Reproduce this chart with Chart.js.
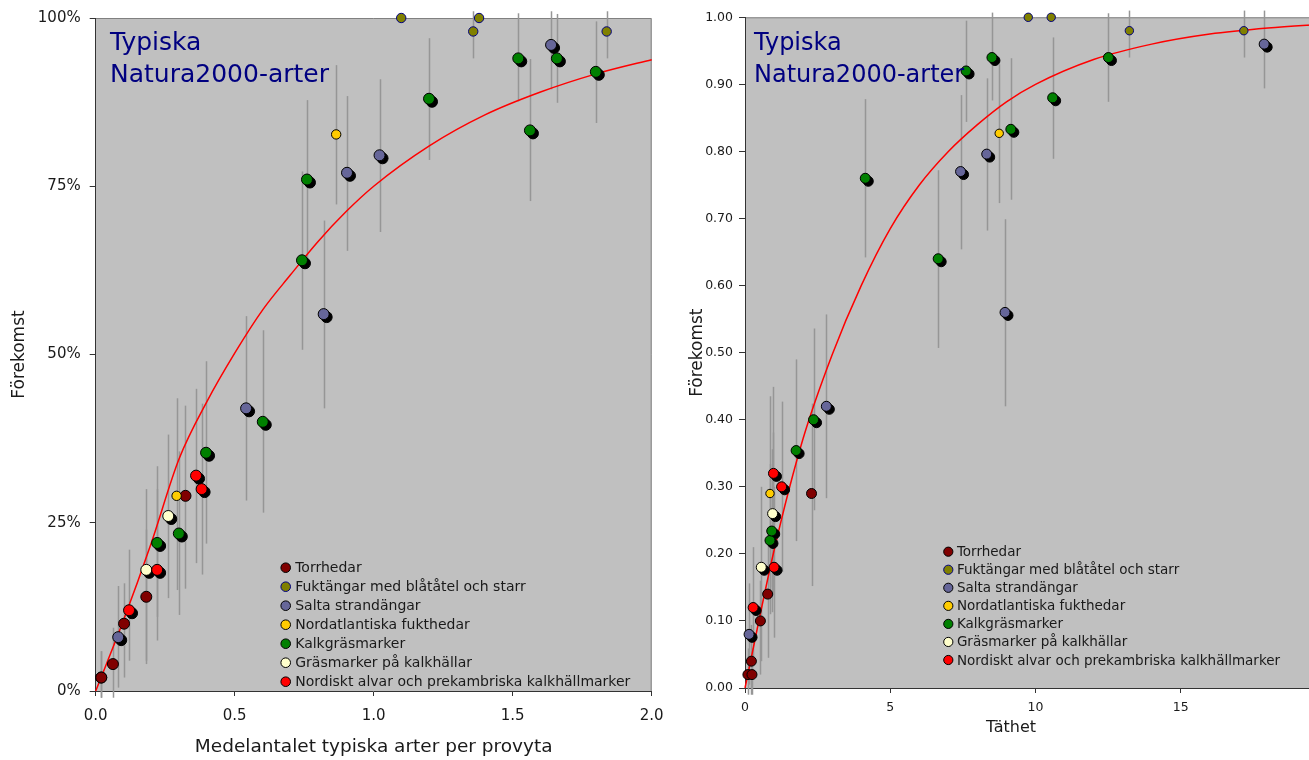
<!DOCTYPE html>
<html lang="sv">
<head>
<meta charset="utf-8">
<title>Typiska Natura2000-arter</title>
<script src="https://cdn.jsdelivr.net/npm/chart.js@4.4.1/dist/chart.umd.min.js"></script>
<style>
  html, body { margin: 0; padding: 0; background: #fff; overflow: hidden; }
  #wrap { position: relative; width: 1309px; height: 760px; overflow: hidden; }
  canvas { position: absolute; top: 0; }
  #chart-mean { left: 0; }
  #chart-density { left: 660px; }
</style>
</head>
<body>
<div id="wrap">
  <canvas id="chart-mean" width="680" height="760"></canvas>
  <canvas id="chart-density" width="681" height="760"></canvas>
</div>
<script>
'use strict';

// Habitat types, legend order
const HABITATS = [
  'Torrhedar',
  'Fuktängar med blåtåtel och starr',
  'Salta strandängar',
  'Nordatlantiska fukthedar',
  'Kalkgräsmarker',
  'Gräsmarker på kalkhällar',
  'Nordiskt alvar och prekambriska kalkhällmarker',
];
const FILL = ['#800000', '#808000', '#666699', '#FFCC00', '#008000', '#FFFFCC', '#FF0000'];
const EDGE = ['#000000', '#000080', '#000000', '#000000', '#000000', '#000000', '#000000'];
const SHADOWED = [false, false, true, false, true, true, true];

// Per species: occurrence (förekomst) with error bar, mean per plot and density
const TORR_OCC  = [0.02, 0.02, 0.04, 0.10, 0.14, 0.29];
const TORR_LO   = [-0.01, -0.01, -0.01, 0.02, 0.045, 0.152];
const TORR_HI   = [0.059, 0.059, 0.094, 0.16, 0.24, 0.424];
const TORR_MEAN = [0.02, 0.02, 0.062, 0.102, 0.182, 0.323];
const TORR_DENS = [0.10, 0.24, 0.22, 0.53, 0.78, 2.29];

const FUKT_OCC  = [1.00, 1.00, 0.98, 0.98];
const FUKT_LO   = [null, null, 0.94, 0.94];
const FUKT_HI   = [null, null, 1.01, 1.01];
const FUKT_MEAN = [1.099, 1.379, 1.358, 1.838];
const FUKT_DENS = [9.75, 10.54, 13.23, 17.17];

const SALT_OCC  = [0.08, 0.42, 0.56, 0.77, 0.796, 0.96];
const SALT_LO   = [0.005, 0.283, 0.42, 0.654, 0.682, 0.894];
const SALT_HI   = [0.156, 0.557, 0.699, 0.884, 0.909, 1.01];
const SALT_MEAN = [0.081, 0.541, 0.82, 0.904, 1.021, 1.638];
const SALT_DENS = [0.14, 2.80, 8.95, 7.42, 8.32, 17.87];

const NATL_OCC  = [0.29, 0.827];
const NATL_LO   = [0.15, 0.723];
const NATL_HI   = [0.435, 0.93];
const NATL_MEAN = [0.291, 0.865];
const NATL_DENS = [0.86, 8.75];

const KALK_OCC  = [0.22, 0.234, 0.354, 0.40, 0.64, 0.76, 0.833, 0.88, 0.92, 0.94, 0.94];
const KALK_LO   = [0.11, 0.113, 0.219, 0.265, 0.507, 0.642, 0.728, 0.789, 0.844, 0.876, 0.874];
const KALK_HI   = [0.334, 0.356, 0.49, 0.536, 0.772, 0.878, 0.939, 0.97, 0.995, 1.007, 1.006];
const KALK_MEAN = [0.221, 0.299, 0.397, 0.601, 0.742, 0.760, 1.562, 1.199, 1.799, 1.52, 1.659];
const KALK_DENS = [0.86, 0.92, 1.76, 2.36, 6.65, 4.14, 9.15, 10.59, 7.61, 8.50, 12.51];

const GRAS_OCC  = [0.18, 0.26];
const GRAS_LO   = [0.04, 0.138];
const GRAS_HI   = [0.30, 0.381];
const GRAS_MEAN = [0.182, 0.261];
const GRAS_DENS = [0.56, 0.95];

const ALVR_OCC  = [0.12, 0.18, 0.30, 0.32];
const ALVR_LO   = [0.045, 0.075, 0.173, 0.19];
const ALVR_HI   = [0.21, 0.30, 0.427, 0.449];
const ALVR_MEAN = [0.12, 0.221, 0.381, 0.361];
const ALVR_DENS = [0.28, 1.0, 1.26, 0.98];

// Fitted curves
const FIT_MEAN_X = [0, 0.1, 0.2, 0.3, 0.4, 0.5, 0.6, 0.7, 0.8, 0.9, 1.0, 1.2, 1.4, 1.6, 1.8, 2.0, 2.02];
const FIT_MEAN_Y = [0, 0.105, 0.22, 0.345, 0.43, 0.502, 0.566, 0.618, 0.668, 0.712, 0.75, 0.81, 0.856, 0.89, 0.917, 0.938, 0.94];
const FIT_DENS_X = [0, 1, 2, 3, 4, 5, 6, 7, 8, 9, 10, 12, 14, 16, 18, 20];
const FIT_DENS_Y = [0, 0.205, 0.372, 0.497, 0.60, 0.685, 0.75, 0.80, 0.84, 0.874, 0.90, 0.937, 0.96, 0.975, 0.984, 0.99];

const GROUPS = [
  { occ: TORR_OCC, lo: TORR_LO, hi: TORR_HI, mean: TORR_MEAN, dens: TORR_DENS },
  { occ: FUKT_OCC, lo: FUKT_LO, hi: FUKT_HI, mean: FUKT_MEAN, dens: FUKT_DENS },
  { occ: SALT_OCC, lo: SALT_LO, hi: SALT_HI, mean: SALT_MEAN, dens: SALT_DENS },
  { occ: NATL_OCC, lo: NATL_LO, hi: NATL_HI, mean: NATL_MEAN, dens: NATL_DENS },
  { occ: KALK_OCC, lo: KALK_LO, hi: KALK_HI, mean: KALK_MEAN, dens: KALK_DENS },
  { occ: GRAS_OCC, lo: GRAS_LO, hi: GRAS_HI, mean: GRAS_MEAN, dens: GRAS_DENS },
  { occ: ALVR_OCC, lo: ALVR_LO, hi: ALVR_HI, mean: ALVR_MEAN, dens: ALVR_DENS },
];

const FONT = '"DejaVu Sans", Verdana, sans-serif';
const INK = '#1a1a1a';
Chart.defaults.font.family = FONT;
Chart.defaults.color = INK;

// grey plot background with grey top/right frame
const plotFrame = {
  id: 'plotFrame',
  beforeDraw(chart) {
    const { ctx, chartArea: a } = chart;
    ctx.save();
    ctx.fillStyle = '#C0C0C0';
    ctx.fillRect(a.left, a.top, a.right - a.left, a.bottom - a.top);
    ctx.strokeStyle = '#808080';
    ctx.lineWidth = 1;
    ctx.beginPath();
    ctx.moveTo(a.left, a.top + 0.5);
    ctx.lineTo(a.right - 0.5, a.top + 0.5);
    ctx.lineTo(a.right - 0.5, a.bottom);
    ctx.stroke();
    ctx.restore();
  },
};

// vertical error bars, from the datasets' errLo / errHi
const errorBars = {
  id: 'errorBars',
  beforeDatasetsDraw(chart) {
    const { ctx, scales: { x, y } } = chart;
    ctx.save();
    ctx.strokeStyle = '#969696';
    ctx.lineWidth = 1.5;
    chart.data.datasets.forEach(ds => {
      if (!ds.errLo) return;
      ds.data.forEach((p, j) => {
        const lo = ds.errLo[j], hi = ds.errHi[j];
        if (lo == null || hi == null) return;
        const px = Math.round(x.getPixelForValue(p.x)) + 0.5;
        ctx.beginPath();
        ctx.moveTo(px, y.getPixelForValue(lo));
        ctx.lineTo(px, y.getPixelForValue(hi));
        ctx.stroke();
      });
    });
    ctx.restore();
  },
};

// black drop shadow: shadow datasets are drawn shifted down-right
const dropShadow = {
  id: 'dropShadow',
  beforeDatasetDraw(chart, args, opts) {
    if (!chart.data.datasets[args.index].shadow) return;
    chart.ctx.save();
    chart.ctx.translate(opts.dx, opts.dy);
  },
  afterDatasetDraw(chart, args) {
    if (!chart.data.datasets[args.index].shadow) return;
    chart.ctx.restore();
  },
};

const habitatLegend = {
  id: 'habitatLegend',
  afterDraw(chart, args, opts) {
    const { ctx } = chart;
    ctx.save();
    ctx.font = `${opts.fontSize}px ${FONT}`;
    ctx.textBaseline = 'middle';
    ctx.textAlign = 'left';
    HABITATS.forEach((name, i) => {
      const cy = opts.top + i * opts.rowGap;
      ctx.beginPath();
      ctx.arc(opts.left, cy, opts.radius, 0, Math.PI * 2);
      ctx.fillStyle = FILL[i];
      ctx.fill();
      ctx.lineWidth = 1;
      ctx.strokeStyle = EDGE[i];
      ctx.stroke();
      ctx.fillStyle = INK;
      ctx.fillText(name, opts.left + opts.textGap, cy + 1);
    });
    ctx.restore();
  },
};

// free text: panel title (and x title where it is not centred on the axis)
const panelText = {
  id: 'panelText',
  afterDraw(chart, args, opts) {
    const { ctx } = chart;
    ctx.save();
    (opts.items || []).forEach(t => {
      ctx.font = `${t.size}px ${FONT}`;
      ctx.fillStyle = t.color;
      ctx.textAlign = t.align || 'left';
      ctx.textBaseline = t.baseline || 'alphabetic';
      ctx.fillText(t.text, t.x, t.y);
    });
    ctx.restore();
  },
};

function habitatDatasets(xKey, radius) {
  const sets = [];
  GROUPS.forEach((g, i) => {
    const pts = g.occ.map((occ, j) => ({ x: g[xKey][j], y: occ }));
    const r = (i === 1 || i === 3) ? radius - 0.8 : radius;
    if (SHADOWED[i]) {
      sets.push({
        label: HABITATS[i] + ' skugga',
        data: pts,
        shadow: true,
        pointRadius: r,
        pointBorderWidth: 1,
        pointBackgroundColor: '#000',
        pointBorderColor: '#000',
        order: 60 - i,
        clip: false,
      });
    }
    sets.push({
      label: HABITATS[i],
      data: pts,
      errLo: g.lo,
      errHi: g.hi,
      pointRadius: r,
      pointBorderWidth: 1,
      pointBackgroundColor: FILL[i],
      pointBorderColor: EDGE[i],
      order: 20 - i,
      clip: false,
    });
  });
  return sets;
}

function fitDataset(xs, ys) {
  return {
    label: 'Anpassad kurva',
    data: xs.map((x, i) => ({ x, y: ys[i] })),
    showLine: true,
    pointRadius: 0,
    borderColor: '#FF0000',
    borderWidth: 1.5,
    cubicInterpolationMode: 'monotone',
    order: 100,
    clip: false,
  };
}

function axisBase(tickSize) {
  return {
    type: 'linear',
    grid: { drawOnChartArea: false, drawTicks: true, color: '#333', lineWidth: 1 },
    border: { display: true, color: '#333', width: 1 },
    ticks: { font: { size: tickSize }, color: INK, autoSkip: false, maxRotation: 0 },
  };
}

function makeChart(canvasId, cfg) {
  const xAxis = axisBase(cfg.tickSize);
  Object.assign(xAxis, { min: cfg.xMin, max: cfg.xMax, title: cfg.xTitle });
  xAxis.grid.tickLength = 5;
  Object.assign(xAxis.ticks, { stepSize: cfg.xStep, padding: cfg.xTickPad, callback: cfg.xFmt });
  xAxis.afterFit = s => { s.height = cfg.xAxisHeight; };

  const yAxis = axisBase(cfg.tickSize);
  Object.assign(yAxis, { min: 0, max: 1, title: cfg.yTitle });
  yAxis.grid.tickLength = 6;
  Object.assign(yAxis.ticks, { stepSize: cfg.yStep, padding: cfg.yTickPad, callback: cfg.yFmt });
  yAxis.afterFit = s => { s.width = cfg.yAxisWidth; };

  return new Chart(document.getElementById(canvasId), {
    type: 'scatter',
    data: { datasets: [fitDataset(cfg.fitX, cfg.fitY), ...habitatDatasets(cfg.xKey, cfg.radius)] },
    options: {
      responsive: false,
      animation: false,
      events: [],
      layout: { padding: cfg.padding },
      scales: { x: xAxis, y: yAxis },
      plugins: {
        legend: { display: false },
        tooltip: { enabled: false },
        dropShadow: { dx: 3, dy: 3 },
        habitatLegend: cfg.legend,
        panelText: { items: cfg.texts },
      },
    },
    plugins: [plotFrame, errorBars, dropShadow, habitatLegend, panelText],
  });
}

// left panel: mean number of typical species per plot
makeChart('chart-mean', {
  xKey: 'mean',
  fitX: FIT_MEAN_X, fitY: FIT_MEAN_Y,
  radius: 5.5,
  tickSize: 15,
  xMin: 0, xMax: 2, xStep: 0.5, xTickPad: 11,
  xFmt: v => v.toFixed(1),
  yStep: 0.25, yTickPad: 9,
  yFmt: v => Math.round(v * 100) + '%',
  xAxisHeight: 69, yAxisWidth: 95.7,
  padding: { left: 0, right: 28.3, top: 15, bottom: 0 },
  xTitle: { display: true, text: 'Medelantalet typiska arter per provyta', font: { size: 18.5 }, color: INK, padding: { top: 0, bottom: 2 } },
  yTitle: { display: true, text: 'Förekomst', font: { size: 17 }, color: INK, padding: { top: 9, bottom: 0 } },
  legend: { left: 285.7, top: 567.7, rowGap: 19, radius: 4.8, textGap: 9.5, fontSize: 14 },
  texts: [
    { text: 'Typiska', x: 110, y: 50, size: 25, color: '#000080' },
    { text: 'Natura2000-arter', x: 110, y: 81.7, size: 25, color: '#000080' },
  ],
});

// right panel: density
makeChart('chart-density', {
  xKey: 'dens',
  fitX: FIT_DENS_X, fitY: FIT_DENS_Y,
  radius: 5,
  tickSize: 12.5,
  xMin: 0, xMax: 20, xStep: 5, xTickPad: 7,
  xFmt: v => String(v),
  yStep: 0.1, yTickPad: 6,
  yFmt: v => v.toFixed(2),
  xAxisHeight: 72, yAxisWidth: 85,
  padding: { left: 0, right: 0, top: 17.3, bottom: 0 },
  xTitle: { display: false },
  yTitle: { display: true, text: 'Förekomst', font: { size: 17 }, color: INK, padding: { top: 27, bottom: 0 } },
  legend: { left: 288.3, top: 551.7, rowGap: 18.05, radius: 4.6, textGap: 8.6, fontSize: 13.5 },
  texts: [
    { text: 'Typiska', x: 94, y: 50, size: 24, color: '#000080' },
    { text: 'Natura2000-arter', x: 94, y: 81.7, size: 24, color: '#000080' },
    { text: 'Täthet', x: 351, y: 728, size: 16, color: INK, align: 'center', baseline: 'middle' },
  ],
});
</script>
</body>
</html>
